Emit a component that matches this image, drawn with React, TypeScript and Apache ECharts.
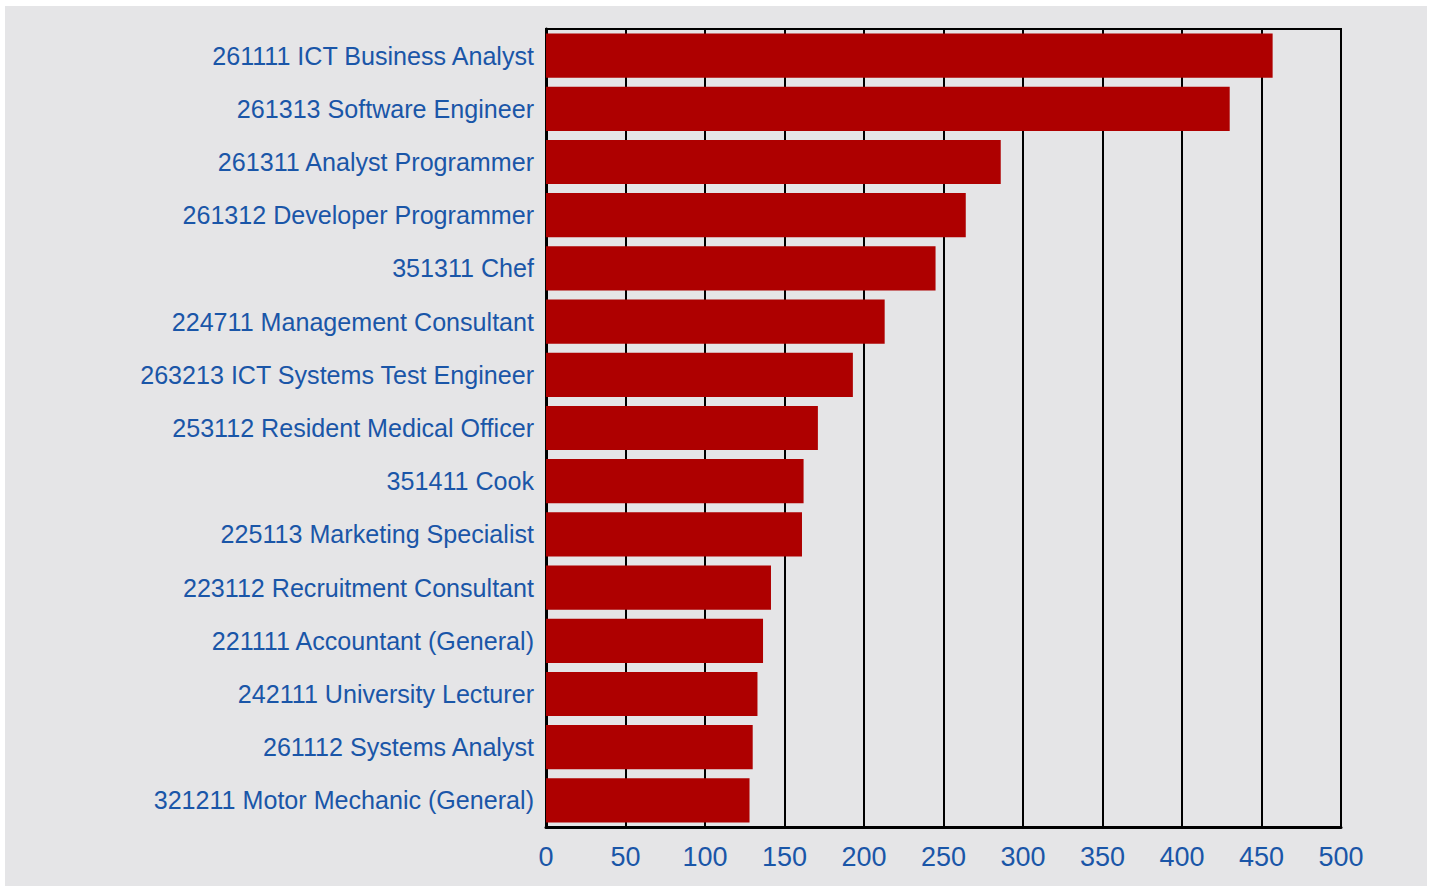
import React, { useEffect, useRef } from "react";
import * as echarts from "echarts";

const categories = [
  "261111 ICT Business Analyst",
  "261313 Software Engineer",
  "261311 Analyst Programmer",
  "261312 Developer Programmer",
  "351311 Chef",
  "224711 Management Consultant",
  "263213 ICT Systems Test Engineer",
  "253112 Resident Medical Officer",
  "351411 Cook",
  "225113 Marketing Specialist",
  "223112 Recruitment Consultant",
  "221111 Accountant (General)",
  "242111 University Lecturer",
  "261112 Systems Analyst",
  "321211 Motor Mechanic (General)",
];

const values = [457, 430, 286, 264, 245, 213, 193, 171, 162, 161, 141.5, 136.5, 133, 130, 128];

const xMin = 0;
const xMax = 500;
const xInterval = 50;

const labelColor = "#1a56a8";
const barColor = "#ae0000";
const font = "'Liberation Sans', Arial, Helvetica, sans-serif";

export default function App() {
  const ref = useRef<HTMLDivElement>(null);

  useEffect(() => {
    if (!ref.current) return;
    const chart = echarts.init(ref.current, null, { renderer: "svg" });
    chart.setOption({
      animation: false,
      backgroundColor: "#e5e5e7",
      grid: {
        left: 541,
        top: 23,
        width: 795,
        height: 798,
        show: true,
        borderColor: "#000",
        borderWidth: 2,
        backgroundColor: "transparent",
      },
      xAxis: {
        type: "value",
        min: xMin,
        max: xMax,
        interval: xInterval,
        axisLine: { show: true, onZero: false, lineStyle: { color: "#000", width: 3 } },
        axisTick: { show: false },
        splitLine: { show: true, lineStyle: { color: "#000", width: 2 } },
        axisLabel: {
          color: labelColor,
          fontSize: 27,
          fontFamily: font,
          margin: 16,
        },
      },
      yAxis: {
        type: "category",
        data: categories,
        inverse: true,
        axisLine: { show: true, lineStyle: { color: "#000", width: 3 } },
        axisTick: { show: false },
        axisLabel: {
          color: labelColor,
          fontSize: 25.1,
          fontFamily: font,
          margin: 12,
        },
      },
      series: [
        {
          type: "bar",
          data: values,
          barCategoryGap: "17%",
          itemStyle: { color: barColor },
          z: 3,
        },
      ],
    });
    return () => chart.dispose();
  }, []);

  return (
    <div
      style={{
        position: "fixed",
        left: 0,
        top: 0,
        width: 1431,
        height: 889,
        background: "#ffffff",
      }}
    >
      <div
        ref={ref}
        style={{ position: "absolute", left: 5, top: 6, width: 1422, height: 880 }}
      />
    </div>
  );
}
